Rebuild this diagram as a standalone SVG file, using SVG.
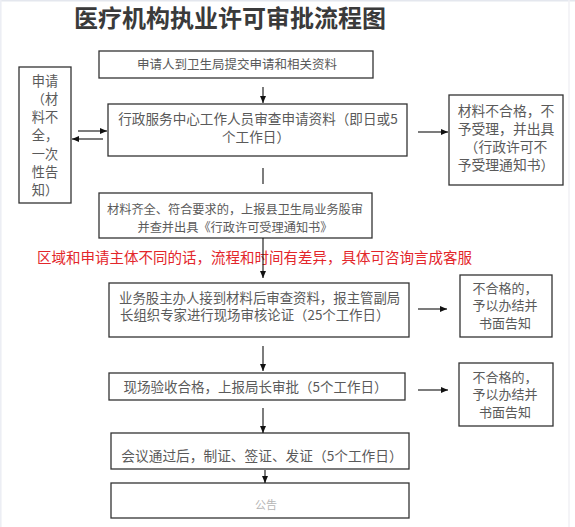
<svg xmlns="http://www.w3.org/2000/svg" width="575" height="527" viewBox="0 0 575 527">
<defs>
<marker id="ah" markerWidth="8" markerHeight="8" refX="7" refY="4" orient="auto" markerUnits="userSpaceOnUse">
<path d="M0,1 L7,4 L0,7 Z" fill="#111"/>
</marker>
<style>
.box{fill:#fff;stroke:#333;stroke-width:1.3}
.t{font-family:"Noto Sans CJK SC","Noto Sans CJK JP",sans-serif;fill:#5a5a5a;text-anchor:middle}
.c{stroke:#111;stroke-width:1.1;fill:none}
.a{marker-end:url(#ah)}
</style>
</defs>
<rect x="0" y="0" width="575" height="527" fill="#fff"/>
<line x1="0" y1="0.8" x2="575" y2="0.8" stroke="#e4e7ee" stroke-width="1.6"/>
<line x1="0.8" y1="0" x2="0.8" y2="527" stroke="#eceef4" stroke-width="1.6"/>
<line x1="569" y1="0" x2="569" y2="527" stroke="#f0f1f5" stroke-width="1.5"/>
<text id="title" x="230" y="27" font-family="'Noto Sans CJK SC',sans-serif" font-size="24" font-weight="bold" fill="#3a3a3a" text-anchor="middle">医疗机构执业许可审批流程图</text>
<g id="n1"><rect class="box" x="99" y="51" width="274" height="27"/><text class="t" x="237" y="68.5" font-size="12.5">申请人到卫生局提交申请和相关资料</text></g>
<g id="n2"><rect class="box" x="108" y="104" width="299" height="52"/><text class="t" x="258" y="123.5" font-size="13.6">行政服务中心工作人员审查申请资料（即日或5</text><text class="t" x="256" y="141.5" font-size="13.6">个工作日）</text></g>
<g id="nL"><rect class="box" x="19" y="67" width="52" height="136"/>
<text class="t" font-size="13.2"><tspan x="45" y="86">申请</tspan><tspan x="45" y="104">（材</tspan><tspan x="45" y="122">料不</tspan><tspan x="45" y="140">全，</tspan><tspan x="45" y="159">一次</tspan><tspan x="45" y="177">性告</tspan><tspan x="45" y="195">知）</tspan></text></g>
<g id="n3"><rect class="box" x="449" y="95" width="114" height="90"/>
<text class="t" font-size="13.8"><tspan x="506" y="116">材料不合格，不</tspan><tspan x="506" y="134">予受理，并出具</tspan><tspan x="506" y="152">（行政许可不</tspan><tspan x="506" y="170">予受理通知书）</tspan></text></g>
<g id="n4"><rect class="box" x="99" y="193" width="273" height="45"/><text class="t" x="235" y="213.5" font-size="12.2">材料齐全、符合要求的，上报县卫生局业务股审</text><text class="t" x="235" y="231.5" font-size="12.2">并查并出具《行政许可受理通知书》</text></g>
<text id="note" x="254.5" y="263" font-family="'Noto Sans CJK SC',sans-serif" font-size="14.5" fill="#e3262b" text-anchor="middle">区域和申请主体不同的话，流程和时间有差异，具体可咨询言成客服</text>
<g id="n5"><rect class="box" x="109" y="283" width="300" height="54"/><text class="t" x="119" y="302.5" font-size="13.4" style="text-anchor:start">业务股主办人接到材料后审查资料，报主管副局</text><text class="t" x="120" y="320" font-size="13.4" style="text-anchor:start">长组织专家进行现场审核论证（25个工作日）</text></g>
<g id="n6"><rect class="box" x="460" y="275" width="92" height="62"/>
<text class="t" font-size="13"><tspan x="505" y="292.5">不合格的，</tspan><tspan x="505" y="310">予以办结并</tspan><tspan x="505" y="328">书面告知</tspan></text></g>
<g id="n7"><rect class="box" x="109" y="373" width="296" height="27"/><text class="t" x="255.5" y="391.5" font-size="13.5">现场验收合格，上报局长审批（5个工作日）</text></g>
<g id="n8"><rect class="box" x="459" y="363" width="94" height="63"/>
<text class="t" font-size="13"><tspan x="505" y="381.5">不合格的，</tspan><tspan x="505" y="399">予以办结并</tspan><tspan x="505" y="417">书面告知</tspan></text></g>
<g id="n9"><rect class="box" x="111" y="433" width="298" height="36"/><text class="t" x="262" y="461" font-size="13.7">会议通过后，制证、签证、发证（5个工作日）</text></g>
<g id="n10"><rect class="box" x="111" y="483" width="298" height="35"/><text class="t" x="266" y="509" font-size="11" style="fill:#b5b5b5">公告</text></g>
<g id="connectors">
<line class="c a" x1="263" y1="87" x2="263" y2="103"/>
<line class="c a" x1="78" y1="131" x2="107" y2="131"/>
<line class="c a" x1="103" y1="139" x2="72" y2="139"/>
<line class="c a" x1="418" y1="132" x2="448" y2="132"/>
<line class="c" x1="263" y1="168" x2="263" y2="184"/>
<line class="c a" x1="263" y1="238" x2="263" y2="278"/>
<line class="c a" x1="418" y1="309" x2="447" y2="309"/>
<line class="c a" x1="263" y1="346" x2="263" y2="371"/>
<line class="c a" x1="418" y1="390" x2="448" y2="390"/>
<line class="c a" x1="263" y1="408" x2="263" y2="433"/>
<line class="c a" x1="265" y1="470" x2="265" y2="483"/>
</g>
</svg>
